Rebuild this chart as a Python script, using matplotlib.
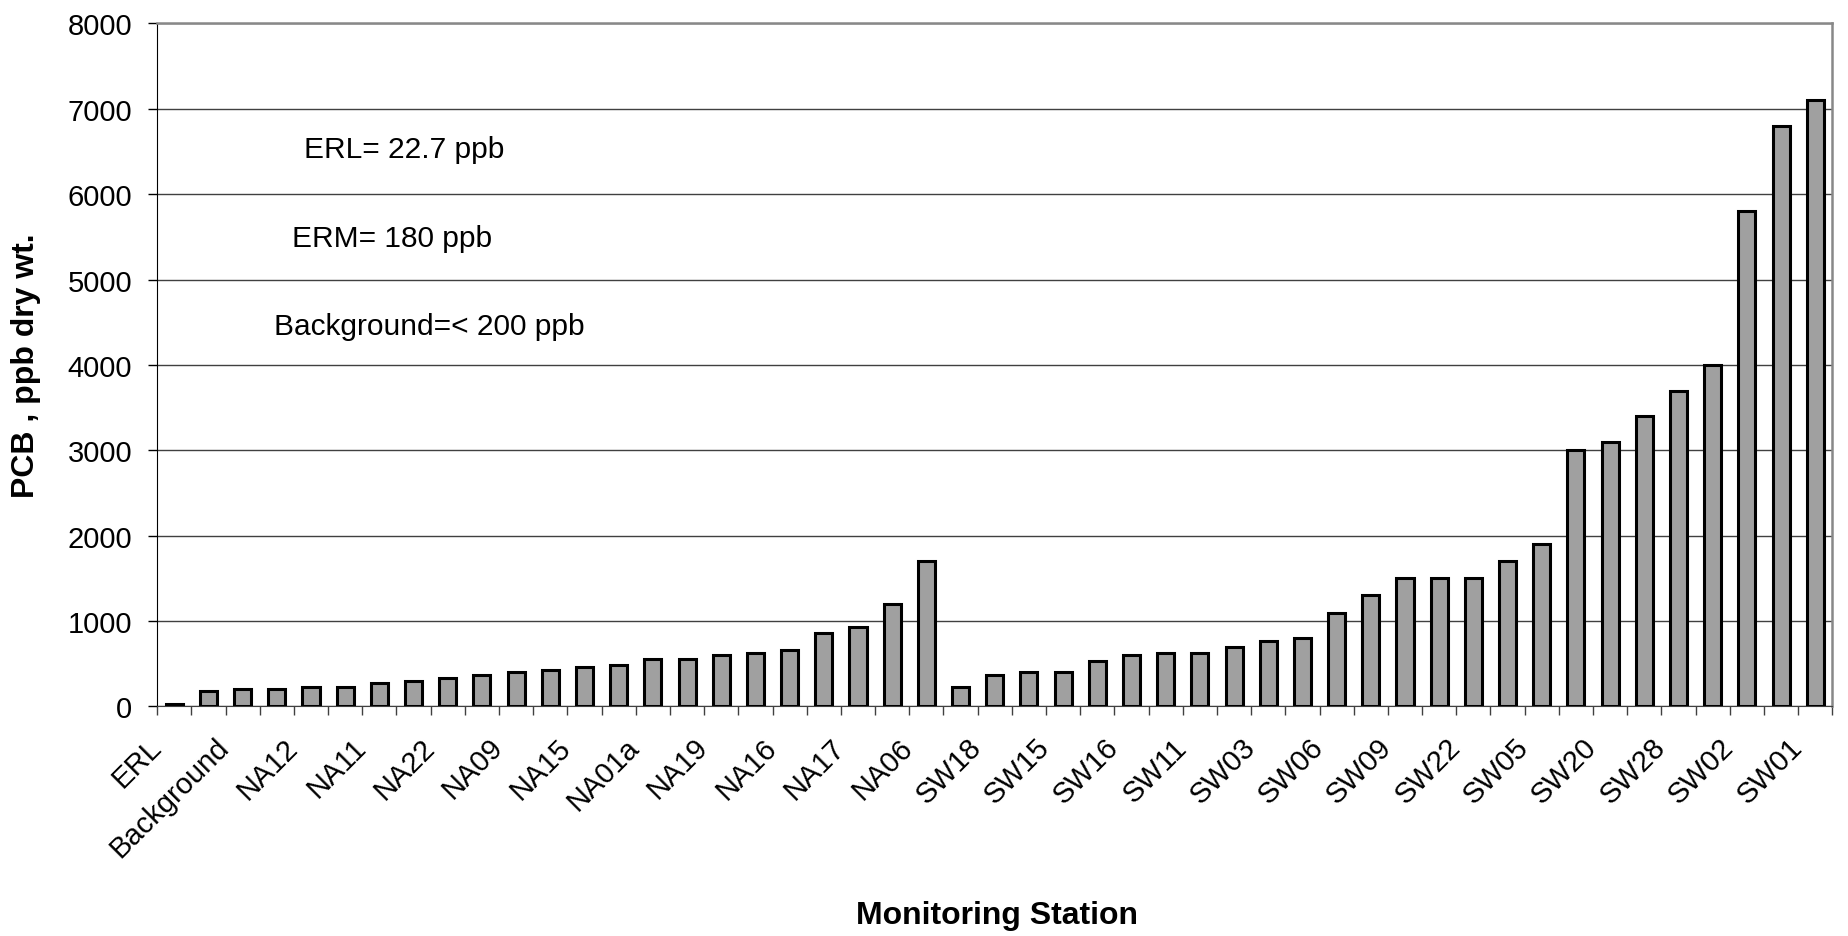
import numpy as np
import matplotlib.pyplot as plt
from matplotlib.transforms import ScaledTranslation

plt.rcParams['font.family'] = ['Liberation Sans', 'DejaVu Sans']

# PCB concentration per station, ppb dry wt. (sorted within each group)
pcb = [22.7, 180, 200, 200, 230, 230, 270, 300, 330, 370, 400, 430, 460, 490,
       560, 560, 600, 630, 660, 860, 930, 1200, 1700,
       230, 370, 400, 400, 530, 600, 630, 630, 700, 770, 800, 1100, 1300,
       1500, 1500, 1500, 1700, 1900, 3000, 3100, 3400, 3700, 4000, 5800,
       6800, 7100]

# only every second category is labelled on the axis
shown_labels = ['ERL', 'Background', 'NA12', 'NA11', 'NA22', 'NA09', 'NA15',
                'NA01a', 'NA19', 'NA16', 'NA17', 'NA06', 'SW18', 'SW15',
                'SW16', 'SW11', 'SW03', 'SW06', 'SW09', 'SW22', 'SW05',
                'SW20', 'SW28', 'SW02', 'SW01']

notes = ['ERL= 22.7 ppb', 'ERM= 180 ppb', 'Background=< 200 ppb']

fig = plt.figure(figsize=(18.49, 9.37), dpi=100)
ax = fig.add_axes([0.085, 0.245, 0.906, 0.729])

x = np.arange(len(pcb))
ax.bar(x, pcb, width=0.5, color='#a0a0a0', edgecolor='black', linewidth=2.2, zorder=3)

ax.set_xlim(-0.5, len(pcb) - 0.5)
ax.set_ylim(0, 8000)
ax.set_yticks(np.arange(0, 8001, 1000))
ax.yaxis.grid(True, color='#404040', linewidth=1.0, zorder=0)
ax.tick_params(axis='y', labelsize=21, length=6.5, width=1, direction='out', pad=11.5)

# tick marks on category boundaries, labels on every other bar
ax.set_xticks(np.arange(-0.5, len(pcb), 1), minor=True)
ax.set_xticks(x[::2])
ax.set_xticklabels(shown_labels, rotation=45, ha='right', va='baseline',
                   rotation_mode='anchor', fontsize=21)
ax.tick_params(axis='x', which='major', length=0, pad=30)
ax.tick_params(axis='x', which='minor', length=6.5, width=1, direction='out', color='#404040')
shift = ScaledTranslation(-0.12, 0, fig.dpi_scale_trans)
for lab in ax.get_xticklabels():
    lab.set_transform(lab.get_transform() + shift)

for side in ['top', 'right']:
    ax.spines[side].set_color('#888888')
    ax.spines[side].set_linewidth(1.8)
ax.spines['left'].set_color('black')
ax.spines['bottom'].set_color('#404040')

ax.text(0.0877, 0.816, notes[0], transform=ax.transAxes, fontsize=21.5, va='center')
ax.text(0.0807, 0.686, notes[1], transform=ax.transAxes, fontsize=21.5, va='center')
ax.text(0.0695, 0.557, notes[2], transform=ax.transAxes, fontsize=21.5, va='center')

fig.text(0.014, 0.61, 'PCB , ppb dry wt.', fontsize=23, fontweight='bold',
         rotation=90, ha='center', va='center')
fig.text(0.539, 0.022, 'Monitoring Station', fontsize=23, fontweight='bold',
         ha='center', va='center')

fig.savefig('out.png', dpi=100)
